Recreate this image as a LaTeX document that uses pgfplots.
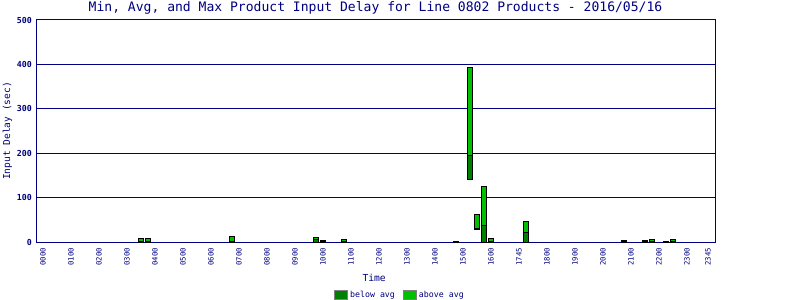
\documentclass[border=0pt]{standalone}
\usepackage{fontspec}
\setmainfont{DejaVu Sans Mono}
\usepackage{pgfplots}
\usepackage{pgfplotstable}
\pgfplotsset{compat=1.18}
\definecolor{navy}{RGB}{0,0,128}
\definecolor{dkgreen}{RGB}{0,128,0}
\definecolor{ltgreen}{RGB}{0,192,0}
\pgfplotstableread{
x     mn   av   mx
3.5   0    1.5  8.5
3.75  0    1.5  8.5
6.75  0    1    13.5
9.75  0    5    11
10.0  0    1.5  4.5
10.75 0    2    6.5
14.75 0    0.5  2
15.25 141  195  393
15.5  29   30   61
15.75 0    38   125
16.0  0    1    8
17.25 0    22   47
20.75 0    1.5  4.5
21.5  0    1.5  4.5
21.75 0    2    6.5
22.25 0    0.5  2
22.5  0    2    6.5
}\data
\begin{document}
\begin{tikzpicture}
\useasboundingbox (-36bp,-58bp) rectangle (764bp,242bp);
\begin{axis}[
  at={(0,0)}, anchor=south west,
  scale only axis, width=679bp, height=222bp,
  xmin=-0.25, xmax=24, ymin=0, ymax=500,
  ybar stacked, bar width=5.5bp,
  axis line style={navy, line width=1bp},
  ytick={0,100,200,300,400,500},
  ymajorgrids, grid style={navy, line width=1bp},
  major tick length=0pt,
  xtick={0,1,2,3,4,5,6,7,8,9,10,11,12,13,14,15,16,17,18,19,20,21,22,23,23.75},
  xticklabels={0000,0100,0200,0300,0400,0500,0600,0700,0800,0900,1000,1100,1200,1300,1400,1500,1600,1745,1800,1900,2000,2100,2200,2300,2345},
  xticklabel style={rotate=90, anchor=east, inner sep=0pt, font=\fontsize{7.3}{8}\selectfont, text=navy},
  xticklabel shift=6bp,
  yticklabel style={anchor=east, inner sep=0pt, font=\fontsize{8.3}{9}\selectfont\bfseries, text=navy},
  yticklabel shift=4bp,
  /pgf/number format/assume math mode=true,
  ylabel={Input Delay (sec)},
  ylabel style={at={(axis description cs:-0.042,0.5)}, anchor=center, rotate=0, font=\fontsize{9.6}{11}\selectfont, text=navy, inner sep=0pt},
  xlabel={Time},
  xlabel style={at={(axis description cs:0.498,-0.162)}, anchor=center, font=\fontsize{9.7}{11}\selectfont, text=navy, inner sep=0pt},
  legend columns=2,
  legend style={draw=none, fill=none, at={(0.536,-0.239)}, anchor=center,
    font=\fontsize{8.3}{9}\selectfont, text=navy,
    /tikz/every even column/.append style={column sep=6bp}},
  legend image code/.code={\draw[#1,draw=gray,line width=1bp] (0bp,-4.5bp) rectangle (13bp,4.5bp);},
]
\addplot[draw=none, fill=none, forget plot] table[x=x, y=mn]{\data};
\addplot[fill=dkgreen, draw=black, line width=0.9bp] table[x=x, y expr=\thisrow{av}-\thisrow{mn}]{\data};
\addlegendentry{below avg}
\addplot[fill=ltgreen, draw=black, line width=0.9bp] table[x=x, y expr=\thisrow{mx}-\thisrow{av}]{\data};
\addlegendentry{above avg}
\end{axis}
\node[anchor=center, text=navy, font=\fontsize{13.1}{14}\selectfont, inner sep=0pt] at ([yshift=12bp]current axis.north) {Min, Avg, and Max Product Input Delay for Line 0802 Products - 2016/05/16};
\end{tikzpicture}
\end{document}
